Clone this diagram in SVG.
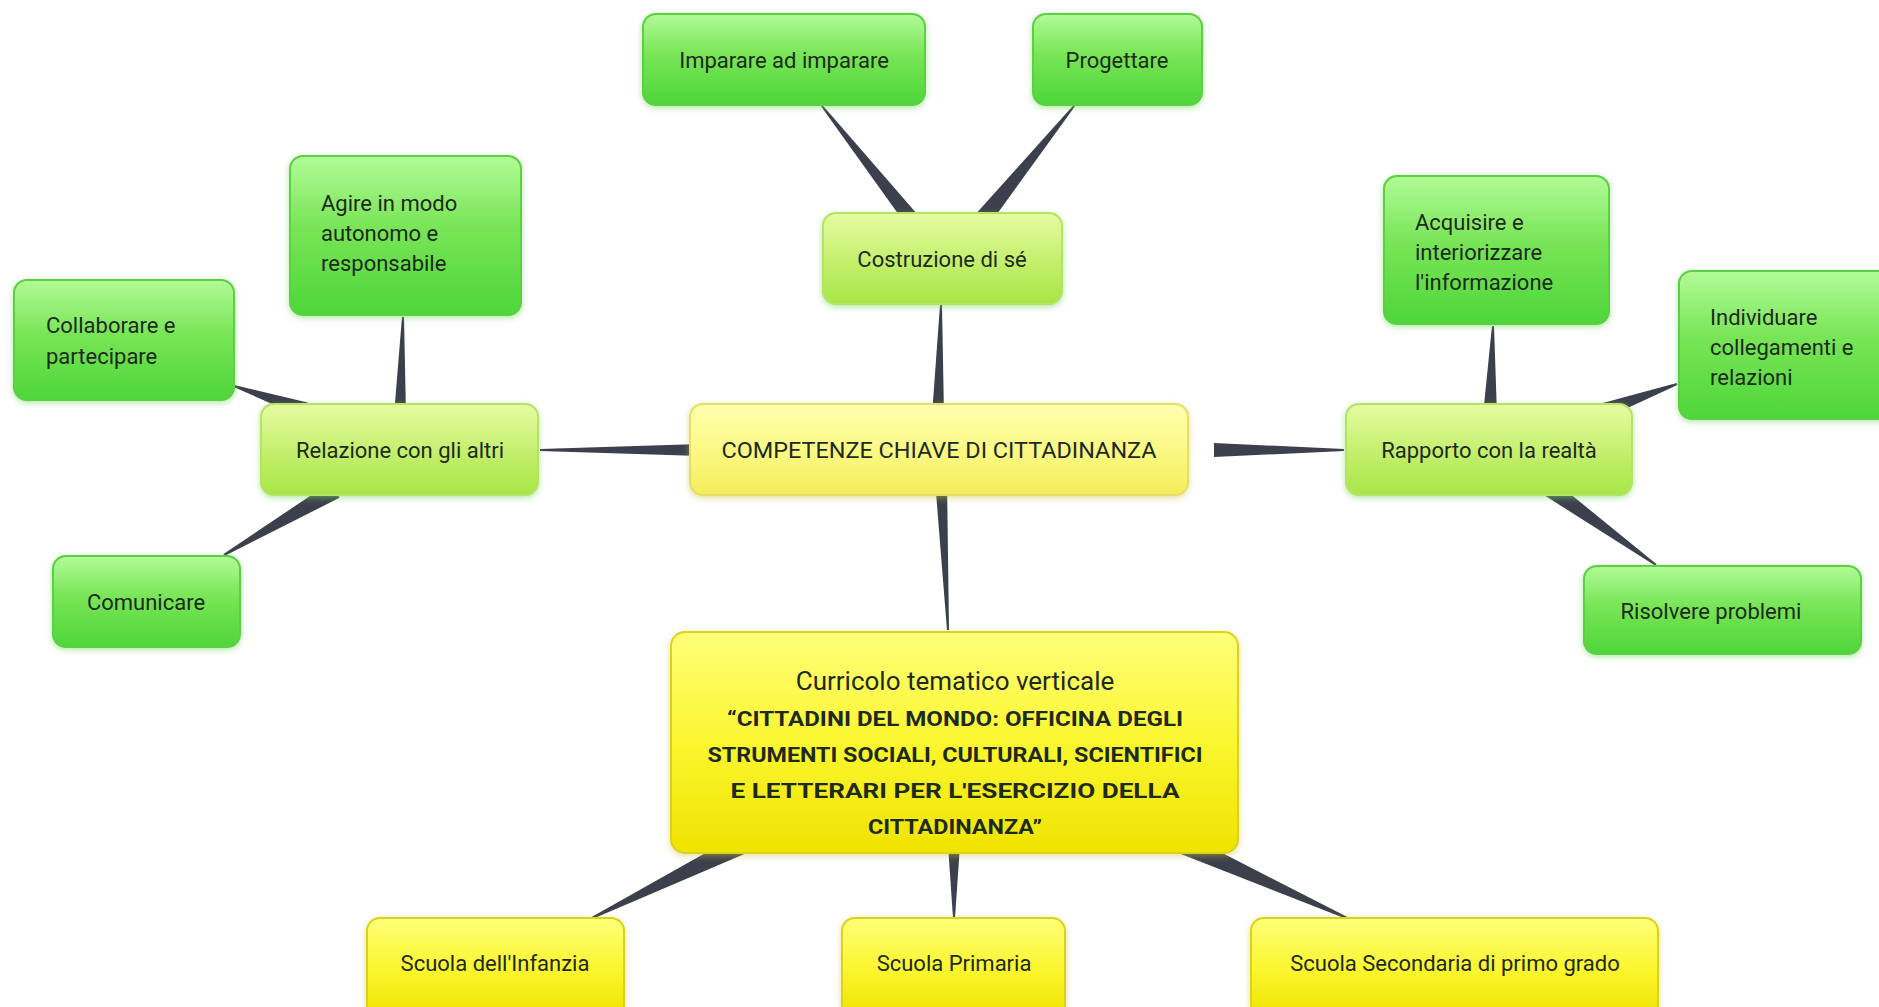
<svg xmlns="http://www.w3.org/2000/svg" width="1879" height="1007" viewBox="0 0 1879 1007">
<defs>
<linearGradient id="gGreen" x1="0" y1="0" x2="0" y2="1">
<stop offset="0" stop-color="#b2fb98"/><stop offset="0.45" stop-color="#78e556"/><stop offset="1" stop-color="#4ed63a"/>
</linearGradient>
<linearGradient id="gLime" x1="0" y1="0" x2="0" y2="1">
<stop offset="0" stop-color="#e6fca2"/><stop offset="0.5" stop-color="#c6f070"/><stop offset="1" stop-color="#a6e646"/>
</linearGradient>
<linearGradient id="gPale" x1="0" y1="0" x2="0" y2="1">
<stop offset="0" stop-color="#ffffb0"/><stop offset="0.5" stop-color="#fbf985"/><stop offset="1" stop-color="#f3ee5a"/>
</linearGradient>
<linearGradient id="gYellow" x1="0" y1="0" x2="0" y2="1">
<stop offset="0" stop-color="#ffff7a"/><stop offset="0.5" stop-color="#fbf630"/><stop offset="1" stop-color="#efe300"/>
</linearGradient>
<filter id="glowG" x="-10%" y="-10%" width="120%" height="130%">
<feDropShadow dx="0" dy="2" stdDeviation="3" flood-color="#6fd85a" flood-opacity="0.55"/>
</filter>
<filter id="glowY" x="-10%" y="-10%" width="120%" height="130%">
<feDropShadow dx="0" dy="2" stdDeviation="3" flood-color="#c8c030" flood-opacity="0.5"/>
</filter>
</defs>
<style>
.green{fill:url(#gGreen);stroke:#5ccf45;stroke-width:2;filter:url(#glowG)}
.lime{fill:url(#gLime);stroke:#b6e266;stroke-width:2;filter:url(#glowG)}
.pale{fill:url(#gPale);stroke:#e6de6a;stroke-width:2;filter:url(#glowY)}
.yellow{fill:url(#gYellow);stroke:#dcd21e;stroke-width:2;filter:url(#glowY)}
text{font-family:Roboto,"Liberation Sans",sans-serif;font-size:22px;fill:#1e2a1e}
.c{text-anchor:middle}
.b{font-weight:bold;font-size:21px}
.conn polygon{fill:#3c404d}
</style>
<rect width="1879" height="1007" fill="#ffffff"/>
<g id="connectors" class="conn">
<polygon points="821.2,106.6 822.8,105.4 922.3,220 909.7,230"/>
<polygon points="1073.2,105.4 1074.8,106.6 985,230.7 971,219.3"/>
<polygon points="940,305 942,305 944,415 932,415"/>
<polygon points="935,480 947,480 949,630 947,630"/>
<polygon points="540,449 540,451 700,456 700,444"/>
<polygon points="402,317 404,317 406,415 394,415"/>
<polygon points="233.7,386.9 234.3,385.1 307.6,402.4 302.4,417.6"/>
<polygon points="224.5,555.9 223.5,554.1 330.5,482.2 339.5,497.8"/>
<polygon points="1214,443 1214,457 1344,451 1344,449"/>
<polygon points="1492,326 1494,326 1497,415 1483,415"/>
<polygon points="1676.7,383.1 1677.3,384.9 1602.7,419.5 1597.3,404.5"/>
<polygon points="1539.7,492.3 1550.3,477.7 1656.6,564.2 1655.4,565.8"/>
<polygon points="735.6,836 744.4,854 592.4,918.9 591.6,917.1"/>
<polygon points="948,845 960,845 955,918 953,918"/>
<polygon points="1180.9,854.1 1189.1,835.9 1347.4,917.1 1346.6,918.9"/>
</g>
<g id="n-imparare"><rect class="green" x="643" y="14" width="282" height="91" rx="13"/><text class="c" x="784" y="68">Imparare ad imparare</text></g>
<g id="n-progettare"><rect class="green" x="1033" y="14" width="169" height="91" rx="13"/><text class="c" x="1117" y="68">Progettare</text></g>
<g id="n-costruzione"><rect class="lime" x="823" y="213" width="239" height="91" rx="13"/><text class="c" x="942" y="267">Costruzione di sé</text></g>
<g id="n-agire"><rect class="green" x="290" y="156" width="231" height="159" rx="13"/><text x="321" y="211">Agire in modo</text><text x="321" y="241">autonomo e</text><text x="321" y="271">responsabile</text></g>
<g id="n-collaborare"><rect class="green" x="14" y="280" width="220" height="120" rx="13"/><text x="46" y="333">Collaborare e</text><text x="46" y="364">partecipare</text></g>
<g id="n-relazione"><rect class="lime" x="261" y="404" width="277" height="91" rx="13"/><text class="c" x="400" y="458">Relazione con gli altri</text></g>
<g id="n-comunicare"><rect class="green" x="53" y="556" width="187" height="91" rx="13"/><text class="c" x="146" y="610">Comunicare</text></g>
<g id="n-competenze"><rect class="pale" x="690" y="404" width="498" height="91" rx="13"/><text class="c" x="939" y="458" textLength="435" lengthAdjust="spacingAndGlyphs">COMPETENZE CHIAVE DI CITTADINANZA</text></g>
<g id="n-acquisire"><rect class="green" x="1384" y="176" width="225" height="148" rx="13"/><text x="1415" y="230">Acquisire e</text><text x="1415" y="260">interiorizzare</text><text x="1415" y="290">l'informazione</text></g>
<g id="n-individuare"><rect class="green" x="1679" y="271" width="215" height="148" rx="13"/><text x="1710" y="325">Individuare</text><text x="1710" y="355">collegamenti e</text><text x="1710" y="385">relazioni</text></g>
<g id="n-rapporto"><rect class="lime" x="1346" y="404" width="286" height="91" rx="13"/><text class="c" x="1489" y="458">Rapporto con la realtà</text></g>
<g id="n-risolvere"><rect class="green" x="1584" y="566" width="277" height="88" rx="13"/><text class="c" x="1711" y="619">Risolvere problemi</text></g>
<g id="n-curricolo"><rect class="yellow" x="671" y="632" width="567" height="221" rx="14"/>
<text class="c" x="955" y="690" style="font-size:26px">Curricolo tematico verticale</text>
<text class="c b" x="955" y="726" textLength="456" lengthAdjust="spacingAndGlyphs">“CITTADINI DEL MONDO: OFFICINA DEGLI</text>
<text class="c b" x="955" y="762" textLength="495" lengthAdjust="spacingAndGlyphs">STRUMENTI SOCIALI, CULTURALI, SCIENTIFICI</text>
<text class="c b" x="955" y="798" textLength="449" lengthAdjust="spacingAndGlyphs">E LETTERARI PER L'ESERCIZIO DELLA</text>
<text class="c b" x="955" y="834" textLength="174" lengthAdjust="spacingAndGlyphs">CITTADINANZA”</text></g>
<g id="n-infanzia"><rect class="yellow" x="367" y="918" width="257" height="100" rx="13"/><text class="c" x="495" y="971">Scuola dell'Infanzia</text></g>
<g id="n-primaria"><rect class="yellow" x="842" y="918" width="223" height="100" rx="13"/><text class="c" x="954" y="971">Scuola Primaria</text></g>
<g id="n-secondaria"><rect class="yellow" x="1251" y="918" width="407" height="100" rx="13"/><text class="c" x="1455" y="971">Scuola Secondaria di primo grado</text></g>
</svg>
